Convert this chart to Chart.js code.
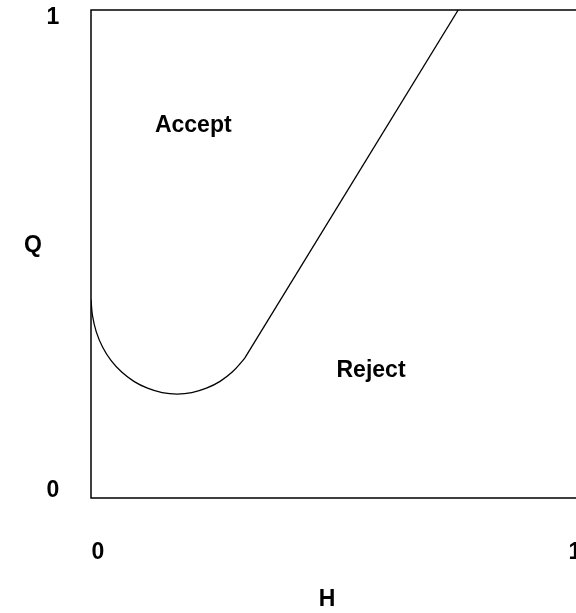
<!DOCTYPE html>
<html>
<head>
<meta charset="utf-8">
<script src="https://cdn.jsdelivr.net/npm/chart.js@4"></script>
<style>
  body { margin: 0; overflow: hidden; background: #fff; }
</style>
</head>
<body>
<canvas id="chartCanvas" width="600" height="613"></canvas>
<script>
// Boundary curve (H on x, Q on y)
const arcH = [0, 0.003, 0.011, 0.024, 0.041, 0.063, 0.088, 0.116, 0.146, 0.177, 0.207, 0.237, 0.265, 0.290, 0.312, 0.316];
const arcQ = [0.406, 0.374, 0.340, 0.309, 0.282, 0.258, 0.239, 0.225, 0.216, 0.213, 0.216, 0.225, 0.239, 0.258, 0.282, 0.287];
const lineH = [0.316, 0.754];
const lineQ = [0.287, 1.0];

// Tick labels
const xTicks = [0, 1];
const yTicks = [0, 1];

// Region labels
const regionNames = ['Accept', 'Reject'];
const regionH = [0.21, 0.575];
const regionQ = [0.764, 0.261];

const font = 'bold 23px "Liberation Sans", Arial, sans-serif';

function toPoints(xs, ys) {
  return xs.map((x, i) => ({ x: x, y: ys[i] }));
}

// Draws the box edges, tick labels, axis titles and region names
const labelsPlugin = {
  id: 'labels',
  afterDraw(chart) {
    const ctx = chart.ctx;
    const area = chart.chartArea;
    const xs = chart.scales.x;
    const ys = chart.scales.y;

    ctx.save();
    ctx.strokeStyle = '#000';
    ctx.lineWidth = 1.5;
    ctx.beginPath();
    ctx.moveTo(area.right, area.top);
    ctx.lineTo(area.left, area.top);
    ctx.lineTo(area.left, area.bottom);
    ctx.lineTo(area.right, area.bottom);
    ctx.stroke();

    ctx.fillStyle = '#000';
    ctx.font = font;
    ctx.textAlign = 'center';
    ctx.textBaseline = 'middle';

    // y tick labels, nudged inward like the original
    yTicks.forEach(v => {
      const py = ys.getPixelForValue(v) + (v === 0 ? -7 : 8);
      ctx.fillText(String(v), 53, py);
    });
    // x tick labels
    xTicks.forEach(v => {
      const px = xs.getPixelForValue(v) + (v === 0 ? 7 : -3);
      ctx.fillText(String(v), px, 553);
    });

    // axis titles
    ctx.fillText('Q', 33, 246);
    ctx.fillText('H', 327, 600);

    // region names
    regionNames.forEach((name, i) => {
      ctx.fillText(name, xs.getPixelForValue(regionH[i]), ys.getPixelForValue(regionQ[i]));
    });
    ctx.restore();
  }
};

const chartConfig = {
  type: 'scatter',
  data: {
    datasets: [
      {
        label: 'arc',
        data: toPoints(arcH, arcQ),
        showLine: true,
        borderColor: '#000',
        borderWidth: 1.3,
        pointRadius: 0,
        tension: 0.4,
        fill: false
      },
      {
        label: 'line',
        data: toPoints(lineH, lineQ),
        showLine: true,
        borderColor: '#000',
        borderWidth: 1.3,
        pointRadius: 0,
        tension: 0,
        fill: false
      }
    ]
  },
  options: {
    responsive: false,
    animation: false,
    layout: {
      padding: { left: 91, top: 10, right: 22, bottom: 115 }
    },
    plugins: {
      legend: { display: false },
      tooltip: { enabled: false }
    },
    scales: {
      x: { type: 'linear', min: 0, max: 1, display: false },
      y: { type: 'linear', min: 0, max: 1, display: false }
    }
  },
  plugins: [labelsPlugin]
};

const chartContext = document.getElementById('chartCanvas').getContext('2d');
const decisionChart = new Chart(chartContext, chartConfig);
</script>
</body>
</html>
